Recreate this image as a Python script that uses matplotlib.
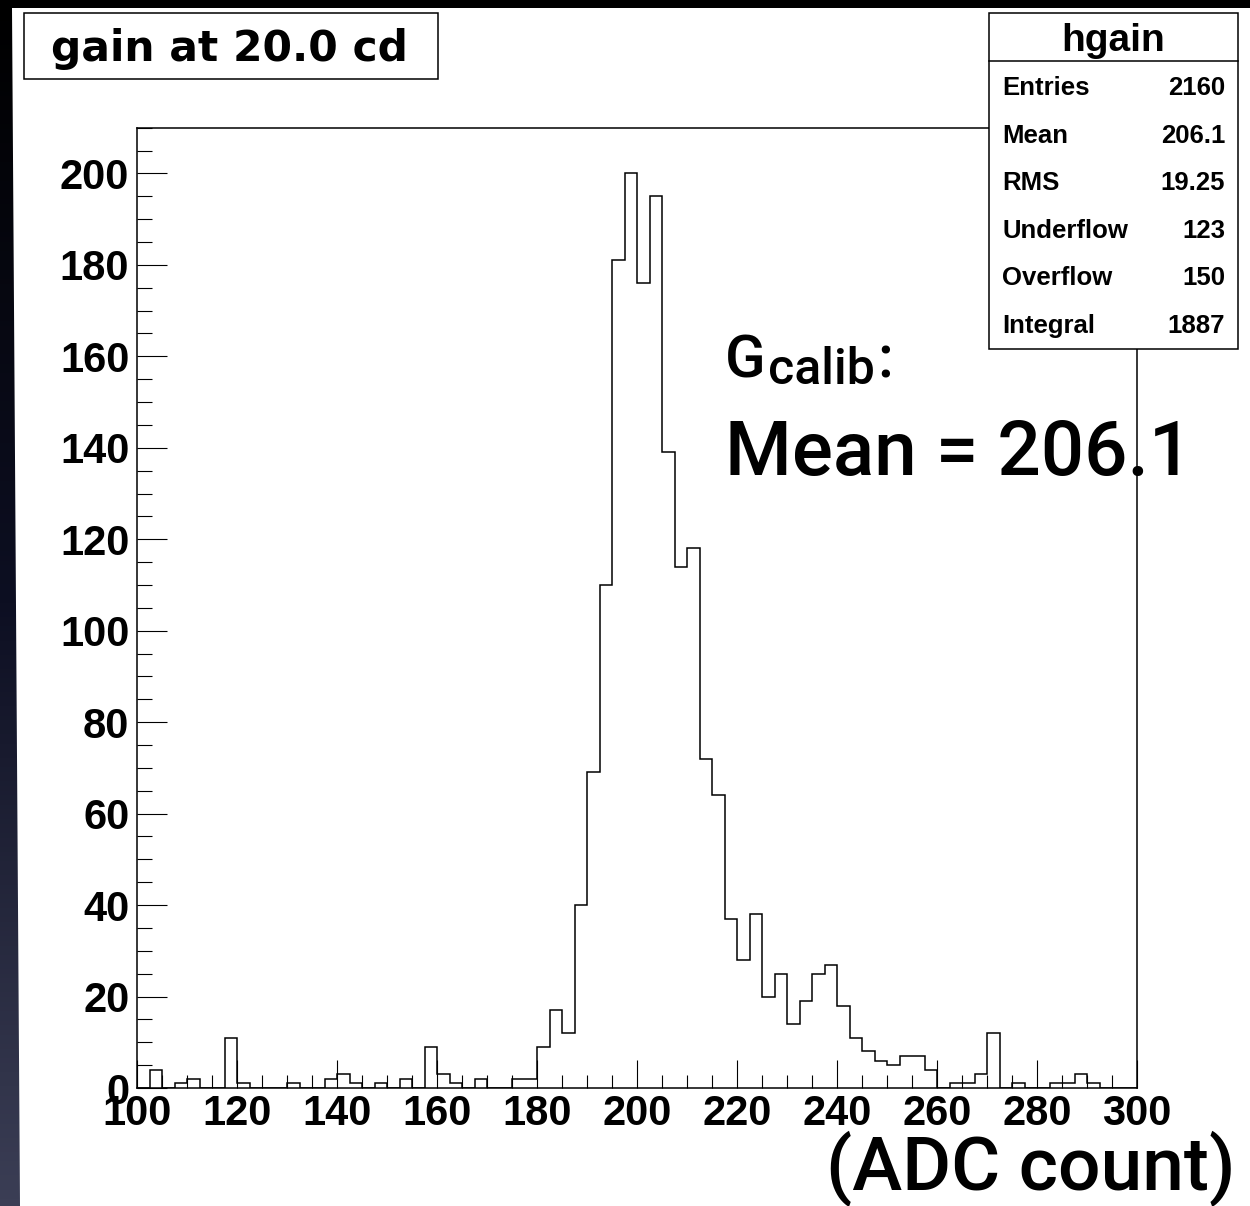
import numpy as np
import matplotlib
matplotlib.use("Agg")
import matplotlib.pyplot as plt
from matplotlib.patches import Rectangle, Polygon
from matplotlib.colors import LinearSegmentedColormap
from matplotlib.ticker import MultipleLocator

# ---------------- data ----------------
counts = [0, 4, 0, 1, 2, 0, 0, 11, 1, 0,
          0, 0, 1, 0, 0, 2, 3, 1, 0, 1,
          0, 2, 0, 9, 3, 1, 0, 2, 0, 0,
          2, 2, 9, 17, 12, 40, 69, 110, 181, 200,
          176, 195, 139, 114, 118, 72, 64, 37, 28, 38,
          20, 25, 14, 19, 25, 27, 18, 11, 8, 6,
          5, 7, 7, 4, 0, 1, 1, 3, 12, 0,
          1, 0, 0, 1, 1, 3, 1, 0, 0, 0]
x_min, x_max, n_bins = 100, 300, 80
y_max = 210
x_major, x_minor = 20, 5
y_major, y_minor = 20, 5

title = "gain at 20.0 cd"
stats_name = "hgain"
stats_labels = ["Entries", "Mean", "RMS", "Underflow", "Overflow", "Integral"]
stats_values = ["2160", "206.1", "19.25", "123", "150", "1887"]
x_label = "(ADC count)"
annot_main = "G"
annot_sub = "calib"
annot_mean = "Mean = 206.1"

# ---------------- figure ----------------
W, H = 1250, 1206
fig = plt.figure(figsize=(W / 100, H / 100), dpi=100)

# background (slide gradient + white canvas)
bg = fig.add_axes([0, 0, 1, 1], zorder=0)
bg.set_xlim(0, W)
bg.set_ylim(H, 0)
bg.axis("off")
grad = np.linspace(0, 1, 256)[:, None]
cmap = LinearSegmentedColormap.from_list("slide", ["#000000", "#0d0f22", "#3b3e55"])
bg.imshow(grad, extent=[0, W, H, 0], cmap=cmap, aspect="auto", interpolation="bilinear")
bg.add_patch(Polygon([(12, 8), (W, 8), (W, H), (20, H)], closed=True,
                     facecolor="white", edgecolor="none"))

# main histogram axes
L, R, T, B = 137, 1137, 127.7, 1088
ax = fig.add_axes([L / W, 1 - B / H, (R - L) / W, (B - T) / H], zorder=2)
ax.set_facecolor("none")
edges = np.linspace(x_min, x_max, n_bins + 1)
ax.stairs(counts, edges, color="black", lw=1.1, baseline=0)
ax.set_xlim(x_min, x_max)
ax.set_ylim(0, y_max)
for sp in ax.spines.values():
    sp.set_linewidth(1.1)
    sp.set_color("black")

ax.xaxis.set_major_locator(MultipleLocator(x_major))
ax.xaxis.set_minor_locator(MultipleLocator(x_minor))
ax.yaxis.set_major_locator(MultipleLocator(y_major))
ax.yaxis.set_minor_locator(MultipleLocator(y_minor))
ax.tick_params(axis="both", which="both", direction="in", top=False, right=False,
               width=0.8, color="black")
ax.tick_params(axis="x", which="major", length=20, pad=4)
ax.tick_params(axis="x", which="minor", length=9.5)
ax.tick_params(axis="y", which="major", length=21.5, pad=5.5)
ax.tick_params(axis="y", which="minor", length=10.5)
for lab in ax.get_xticklabels() + ax.get_yticklabels():
    lab.set_fontfamily("Liberation Sans")
    lab.set_fontweight("bold")
    lab.set_fontsize(30)

# overlay for boxes and annotations (pixel coordinates)
ov = fig.add_axes([0, 0, 1, 1], zorder=5)
ov.set_xlim(0, W)
ov.set_ylim(H, 0)
ov.axis("off")
ov.patch.set_alpha(0)

# title box
ov.add_patch(Rectangle((24, 13), 414, 66, facecolor="white", edgecolor="black", lw=1.1))
ov.text(229.5, 61, title, ha="center", va="baseline", fontsize=30.5,
        fontweight="bold", family=["DejaVu Sans"])

# stats box
sx0, sy0, sw, sh = 989, 13, 249, 336
ov.add_patch(Rectangle((sx0, sy0), sw, sh, facecolor="white", edgecolor="black", lw=1.1))
ov.plot([sx0, sx0 + sw], [61, 61], color="black", lw=1.1)
ov.text(sx0 + sw / 2, 51, stats_name, ha="center", va="baseline", fontsize=28,
        fontweight="bold", family=["Liberation Sans"])
for i, (lab, val) in enumerate(zip(stats_labels, stats_values)):
    yb = 95 + 47.6 * i
    ov.text(1002, yb, lab, ha="left", va="baseline", fontsize=18.5,
            fontweight="bold", family=["Liberation Sans"])
    ov.text(1225, yb, val, ha="right", va="baseline", fontsize=18.5,
            fontweight="bold", family=["Liberation Sans"])

# annotation G_calib:
afont = ["Roboto", "DejaVu Sans"]
tG = ov.text(725, 378, annot_main, ha="left", va="baseline", fontsize=43,
             fontweight="medium", family=afont)
fig.canvas.draw()
bb = tG.get_window_extent()
tS = ov.text(bb.x1 + 2, 384, annot_sub, ha="left", va="baseline", fontsize=36,
             fontweight="medium", family=afont)
fig.canvas.draw()
bb2 = tS.get_window_extent()
ov.text(bb2.x1 + 3, 378, ":", ha="left", va="baseline", fontsize=43,
        fontweight="medium", family=afont)

ov.text(725, 475, annot_mean, ha="left", va="baseline", fontsize=55,
        fontweight="medium", family=afont)

# x-axis label
ov.text(1235, 1190, x_label, ha="right", va="baseline", fontsize=54,
        fontweight="medium", family=afont)

fig.savefig("out.png", dpi=100)
